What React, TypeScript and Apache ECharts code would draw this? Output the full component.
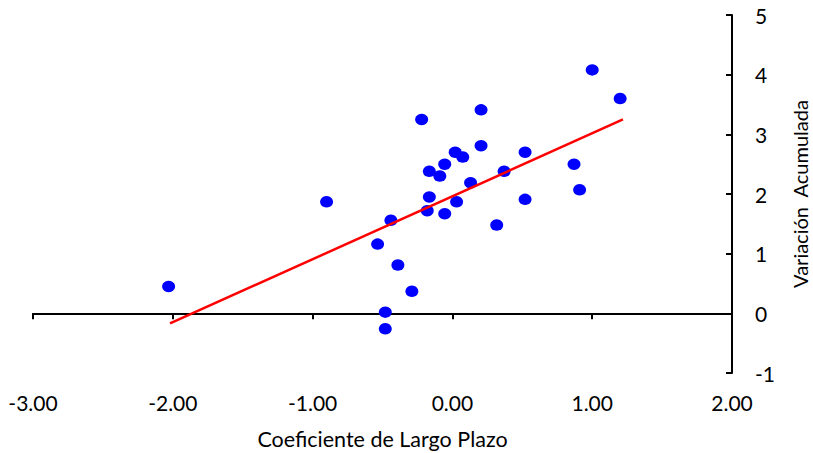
import React, { useEffect, useRef } from "react";
import * as echarts from "echarts";

const xValues = [
  -2.03, -0.9, -0.22, 0.02, -0.055, -0.165, -0.09, -0.165, 0.03, -0.18,
  -0.055, -0.44, -0.535, -0.39, -0.29, -0.48, -0.48, 1.0, 1.2, 0.205,
  0.205, 0.074, 0.52, 0.37, 0.13, 0.87, 0.91, 0.52, 0.317,
];
const yValues = [
  0.45, 1.87, 3.25, 2.7, 2.5, 2.38, 2.3, 1.95, 1.87, 1.72,
  1.67, 1.56, 1.16, 0.81, 0.37, 0.02, -0.26, 4.08, 3.6, 3.41,
  2.81, 2.62, 2.7, 2.38, 2.19, 2.5, 2.07, 1.91, 1.48,
];
const trendX = [-2.02, 1.22];
const trendY = [-0.17, 3.25];

const xTitle = "Coeficiente de Largo Plazo";
const yTitle = "Variación  Acumulada";

const FONT = "Lato";

export default function App() {
  const ref = useRef<HTMLDivElement>(null);
  useEffect(() => {
    const chart = echarts.init(ref.current!, null, { renderer: "svg" });
    const points = xValues.map((x, i) => [x, yValues[i]]);
    const trend = trendX.map((x, i) => [x, trendY[i]]);
    const tickText = { color: "#000", fontFamily: FONT, fontSize: 21 };
    chart.setOption({
      animation: false,
      backgroundColor: "#fff",
      grid: { left: 33, right: 81, top: 15, bottom: 80, outerBoundsMode: "none", containLabel: false },
      xAxis: [
        {
          type: "value",
          min: -3,
          max: 2,
          interval: 1,
          position: "bottom",
          axisLine: { show: true, onZero: true, lineStyle: { color: "#000", width: 2 } },
          axisTick: { show: true, length: 6, lineStyle: { color: "#000", width: 2 } },
          axisLabel: { show: false },
          splitLine: { show: false },
        },
        {
          type: "value",
          min: -3,
          max: 2,
          interval: 1,
          position: "bottom",
          axisLine: { show: false, onZero: false },
          axisTick: { show: false },
          axisLabel: {
            ...tickText,
            margin: 19,
            formatter: (v: number) => v.toFixed(2),
          },
          splitLine: { show: false },
          name: xTitle,
          nameLocation: "middle",
          nameGap: 55,
          nameTextStyle: { color: "#000", fontFamily: FONT, fontSize: 21.5 },
        },
      ],
      yAxis: {
        type: "value",
        min: -1,
        max: 5,
        interval: 1,
        position: "right",
        axisLine: { show: true, onZero: false, lineStyle: { color: "#000", width: 2 } },
        axisTick: { show: true, inside: true, length: 6, lineStyle: { color: "#000", width: 2 } },
        axisLabel: { ...tickText, margin: 23 },
        splitLine: { show: false },
        name: yTitle,
        nameLocation: "middle",
        nameGap: 58,
        nameTextStyle: { color: "#000", fontFamily: FONT, fontSize: 20 },
      },
      series: [
        {
          type: "scatter",
          xAxisIndex: 0,
          data: points,
          symbol: "circle",
          symbolSize: [13, 11.5],
          itemStyle: { color: "#0000FF", opacity: 1 },
        },
        {
          type: "line",
          xAxisIndex: 0,
          data: trend,
          symbol: "none",
          lineStyle: { color: "#FF0000", width: 2.5 },
        },
      ],
    });
    return () => chart.dispose();
  }, []);
  return (
    <div
      ref={ref}
      style={{ position: "fixed", left: 0, top: 0, width: 813, height: 453, background: "#fff" }}
    />
  );
}
